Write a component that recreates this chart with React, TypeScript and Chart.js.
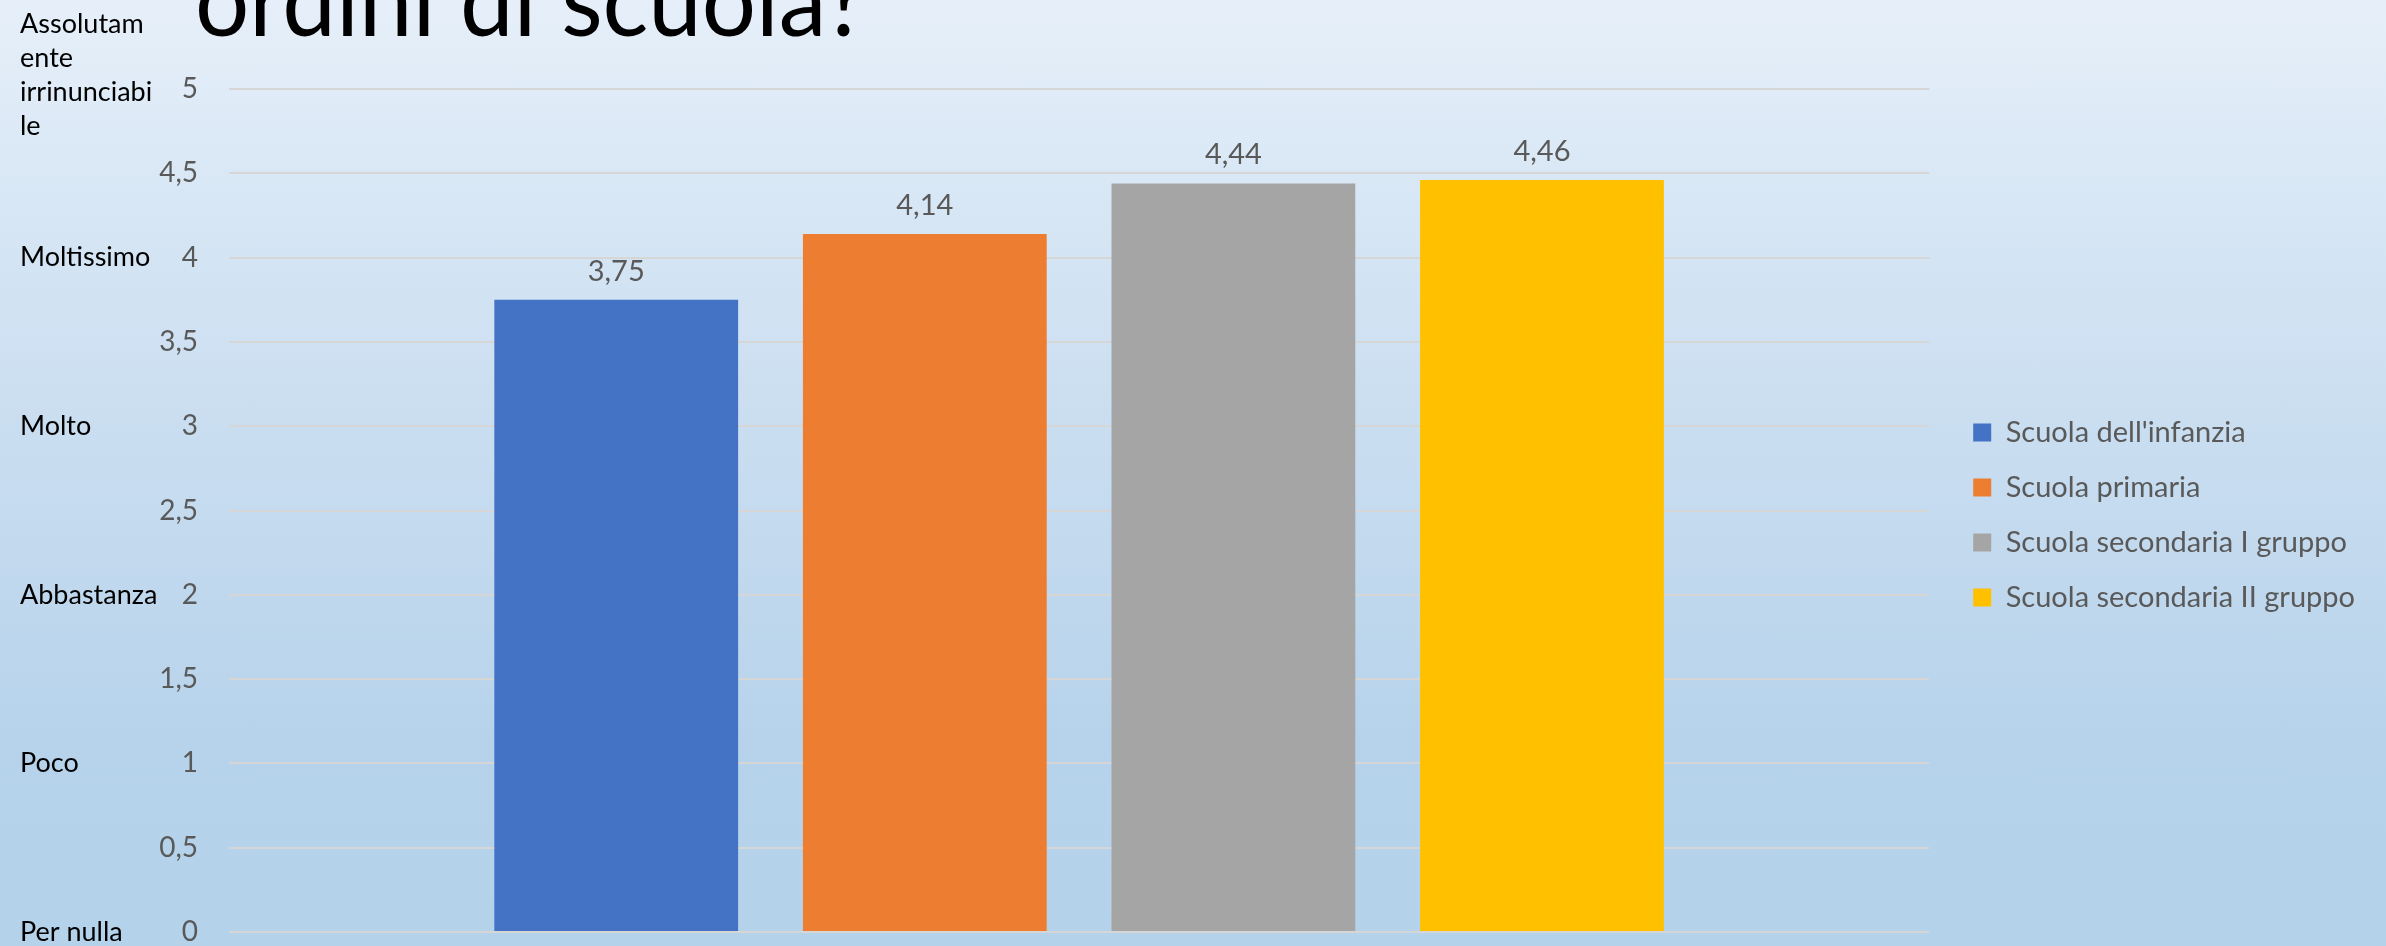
import React, { useEffect, useRef } from "react";
import { Chart, registerables } from "chart.js";

Chart.register(...registerables);

const titleText = "ordini di scuola?";
const categories = [""];
const seriesNames = [
  "Scuola dell'infanzia",
  "Scuola primaria",
  "Scuola secondaria I gruppo",
  "Scuola secondaria II gruppo",
];
const seriesValues = [3.75, 4.14, 4.44, 4.46];
const seriesColors = ["#4472c4", "#ed7d31", "#a5a5a5", "#ffc000"];
const scaleWordValues = [0, 1, 2, 3, 4];
const scaleWordLabels = ["Per nulla", "Poco", "Abbastanza", "Molto", "Moltissimo"];
const topWordValue = 5;
const topWordLines = ["Assolutam", "ente", "irrinunciabi", "le"];

const W = 2386;
const H = 946;
const FONT = "Lato, 'Open Sans', sans-serif";

const fmt = (v: number) => String(v).replace(".", ",");

const overlayPlugin = {
  id: "overlay",
  afterDraw(chart: any) {
    const ctx = chart.ctx;
    const y = chart.scales.y;
    ctx.save();
    // title
    ctx.font = `100px ${FONT}`;
    ctx.fillStyle = "#000000";
    ctx.textAlign = "left";
    ctx.textBaseline = "alphabetic";
    const tw = ctx.measureText(titleText).width;
    ctx.translate(195, 36);
    ctx.scale(672 / tw, 1);
    ctx.fillText(titleText, 0, 0);
    ctx.restore();

    // word labels on the left
    ctx.save();
    ctx.font = `27px ${FONT}`;
    ctx.fillStyle = "#000000";
    ctx.textAlign = "left";
    ctx.textBaseline = "middle";
    scaleWordValues.forEach((v, i) => {
      ctx.fillText(scaleWordLabels[i], 20, y.getPixelForValue(v));
    });
    const y5 = y.getPixelForValue(topWordValue);
    topWordLines.forEach((line, i) => {
      ctx.fillText(line, 20, y5 - 65 + i * 34);
    });
    ctx.restore();

    // data labels
    ctx.save();
    ctx.font = `29px ${FONT}`;
    ctx.fillStyle = "#595959";
    ctx.textAlign = "center";
    ctx.textBaseline = "alphabetic";
    chart.data.datasets.forEach((ds: any, di: number) => {
      const meta = chart.getDatasetMeta(di);
      meta.data.forEach((bar: any, i: number) => {
        ctx.fillText(fmt(ds.data[i]), bar.x, bar.y - 19);
      });
    });
    ctx.restore();
  },
};

export default function App() {
  const ref = useRef<HTMLCanvasElement | null>(null);
  useEffect(() => {
    if (!ref.current) return;
    const chart = new Chart(ref.current, {
      type: "bar",
      data: {
        labels: categories,
        datasets: seriesNames.map((name, i) => ({
          label: name,
          data: [seriesValues[i]],
          backgroundColor: seriesColors[i],
          borderColor: seriesColors[i],
          borderWidth: 0,
          barPercentage: 0.79,
          categoryPercentage: 0.726,
        })),
      },
      options: {
        responsive: false,
        animation: false,
        devicePixelRatio: 1,
        layout: { padding: { top: 89, bottom: 14, left: 0, right: 21 } },
        plugins: {
          legend: {
            position: "right",
            fullSize: false,
            maxWidth: 470,
            title: {
              display: true,
              text: "",
              font: { family: FONT, size: 5, lineHeight: 1 },
              padding: { top: 2, bottom: 2 },
            },
            labels: {
              boxWidth: 18,
              boxHeight: 18,
              padding: 26,
              color: "#595959",
              font: { family: FONT, size: 29 },
            },
          },
          tooltip: { enabled: false },
        },
        scales: {
          x: {
            display: false,
          },
          y: {
            min: 0,
            max: 5,
            position: "left",
            afterFit: (s: any) => {
              s.width = 229;
              s.paddingTop = 0;
              s.paddingBottom = 0;
            },
            ticks: {
              stepSize: 0.5,
              padding: 31,
              color: "#595959",
              font: { family: FONT, size: 28 },
              callback: (v: any) => fmt(Number(v)),
            },
            grid: { color: "#d6d6d6", lineWidth: 2, drawTicks: false },
            border: { display: false },
          },
          spacer: {
            position: "right",
            display: true,
            grid: { display: false },
            border: { display: false },
            ticks: { display: false },
            afterFit: (s: any) => {
              s.width = 18;
              s.paddingTop = 0;
              s.paddingBottom = 0;
            },
          },
        },
      } as any,
      plugins: [overlayPlugin],
    });
    return () => chart.destroy();
  }, []);
  return (
    <div
      style={{
        position: "fixed",
        left: 0,
        top: 0,
        width: W,
        height: H,
        overflow: "hidden",
        background:
          "linear-gradient(to bottom, #e6eff9 0%, #d8e7f5 21%, #d2e3f3 30%, #c2d9ee 59%, #b6d3eb 78%, #b4d2ea 100%)",
      }}
    >
      <canvas ref={ref} width={W} height={H} style={{ display: "block" }} />
    </div>
  );
}
